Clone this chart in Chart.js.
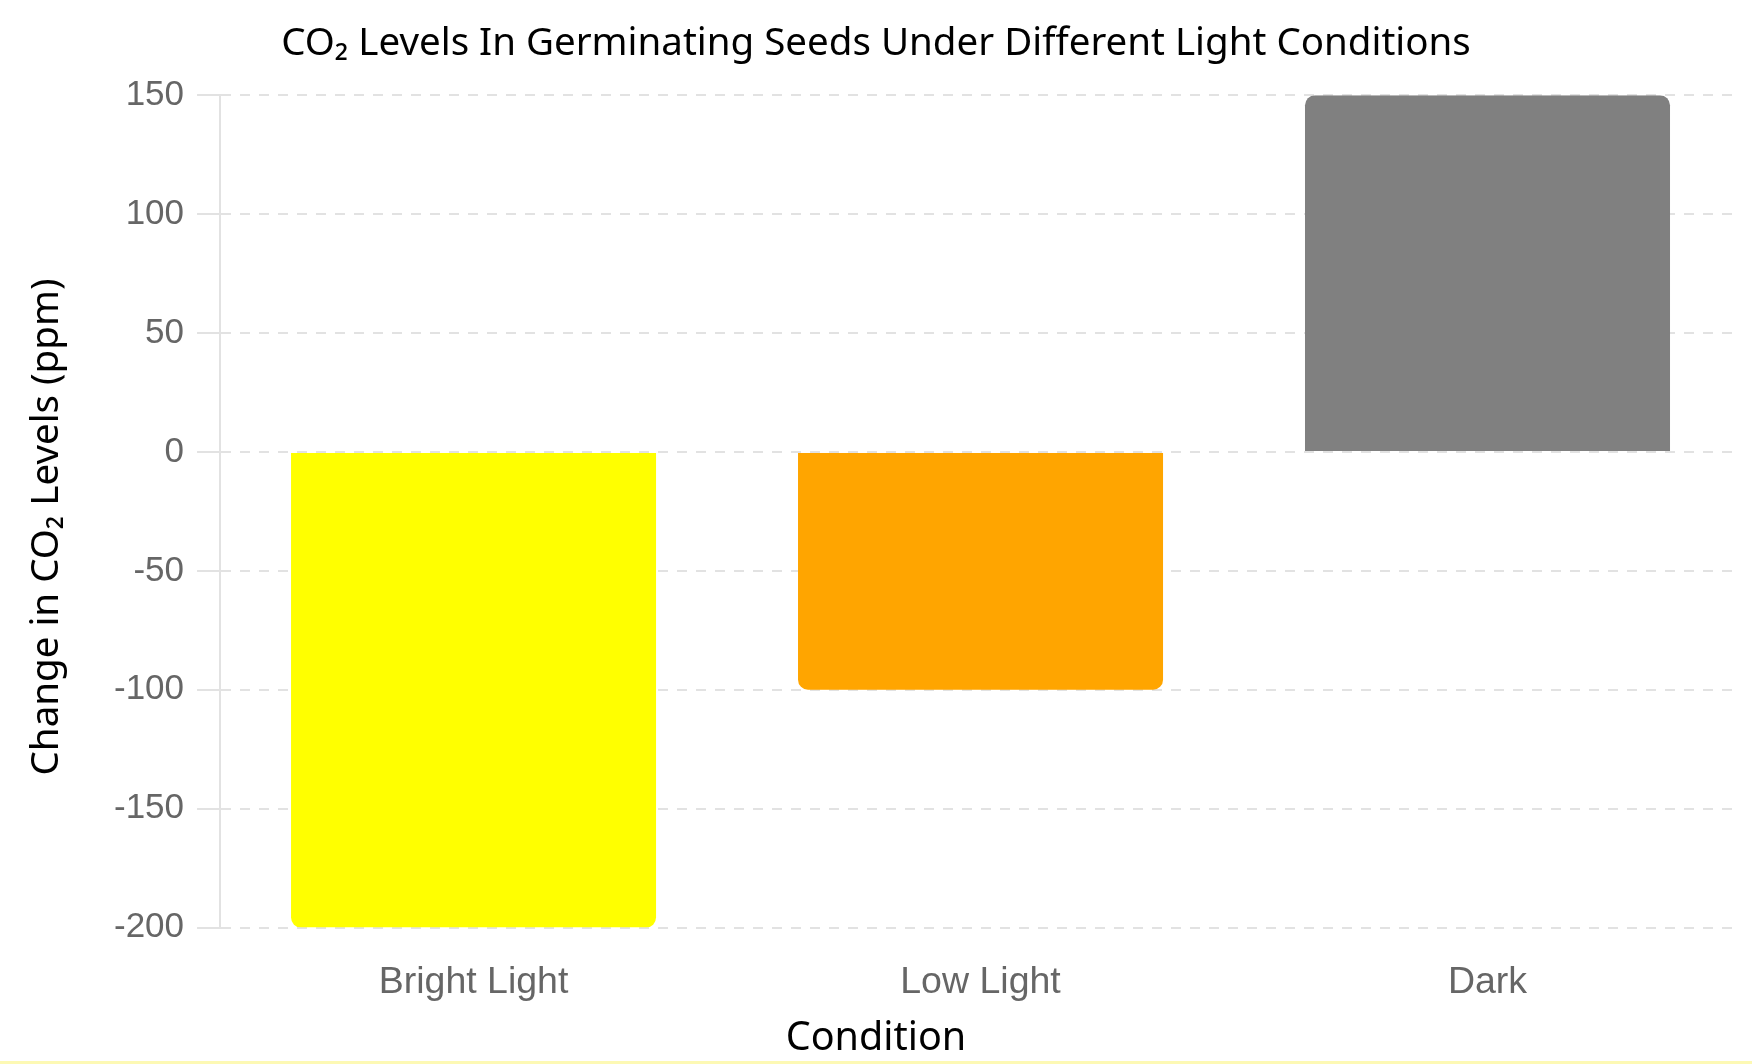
<!DOCTYPE html>
<html>
<head>
<meta charset="utf-8">
<script src="https://cdn.jsdelivr.net/npm/chart.js@4"></script>
<style>
  html, body { margin: 0; padding: 0; background: #fff; overflow: hidden; }
  #wrap { width: 1752px; height: 1064px; position: relative; overflow: hidden; }
  #chart { display: block; }
  #edge { position: absolute; left: 0; right: 0; bottom: 0; height: 3px; background: #fdf9b4; }
</style>
</head>
<body>
<div id="wrap">
  <canvas id="chart" width="1752" height="1064"></canvas>
  <div id="edge"></div>
</div>
<script>
const conditions = ["Bright Light", "Low Light", "Dark"];
const co2Change = [-200, -100, 150];
const barColors = ["#FFFF00", "#FFA500", "#808080"];
const yTicks = [150, 100, 50, 0, -50, -100, -150, -200];

const titleFont = "'Noto Sans', sans-serif";
const tickFont = "'Liberation Sans', Arial, sans-serif";

// y title is centred on the whole canvas height, not on the plot area
const yTitle = {
	id: "yTitle",
	afterDraw(chart, args, opts) {
		const c = chart.ctx;
		c.save();
		c.translate(opts.x, chart.height / 2 + opts.shift);
		c.rotate(-Math.PI / 2);
		c.font = opts.font;
		c.fillStyle = opts.color;
		c.textAlign = "center";
		c.textBaseline = "middle";
		c.fillText(opts.text, 0, 0);
		c.restore();
	},
};

const ctx = document.getElementById("chart");
new Chart(ctx, {
	type: "bar",
	data: {
		labels: conditions,
		datasets: [
			{
				data: co2Change,
				backgroundColor: barColors,
				borderRadius: 10,
				borderSkipped: "start",
			},
		],
	},
	options: {
		responsive: false,
		animation: false,
		layout: {
			padding: 0,
		},
		scales: {
			x: {
				grid: {
					display: false,
					drawTicks: true,
					tickLength: 29,
				},
				border: { display: false },
				ticks: {
					color: "#666",
					padding: 4,
					font: { family: tickFont, size: 37.5 },
				},
			},
			y: {
				min: -200,
				max: 150,
				afterBuildTicks: (axis) => {
					axis.ticks = yTicks.map((v) => ({ value: v }));
				},
				// room for the y title drawn by the plugin
				afterFit: (s) => {
					s.width += 101;
				},
				grid: {
					color: "#e2e2e2",
					lineWidth: 2,
					tickLength: 23,
					tickColor: "#e2e2e2",
				},
				border: {
					display: true,
					color: "#e2e2e2",
					width: 2,
					dash: [10, 9],
				},
				ticks: {
					color: "#666",
					padding: 13,
					font: { family: tickFont, size: 35 },
				},
			},
			// empty strip on the right so titles stay centred on the canvas
			spacer: {
				type: "linear",
				position: "right",
				grid: { display: false, drawTicks: false },
				border: { display: false },
				ticks: { display: false },
				afterFit: (s) => {
					s.width = 11;
				},
			},
		},
		plugins: {
			legend: { display: false },
			tooltip: { enabled: false },
			title: {
				display: true,
				text: "CO\u2082 Levels In Germinating Seeds Under Different Light Conditions",
				color: "#000",
				font: { family: titleFont, size: 38.5, weight: "normal" },
				padding: { top: 21, bottom: 28 },
			},
			subtitle: {
				display: true,
				position: "bottom",
				text: "Condition",
				color: "#000",
				font: { family: titleFont, size: 39.5, weight: "normal" },
				padding: { top: 5, bottom: 2 },
			},
			yTitle: {
				text: "Change in CO\u2082 Levels (ppm)",
				font: "38.5px 'Noto Sans', sans-serif",
				color: "#000",
				x: 47,
				shift: -5,
			},
		},
	},
	plugins: [yTitle],
});
</script>
</body>
</html>
